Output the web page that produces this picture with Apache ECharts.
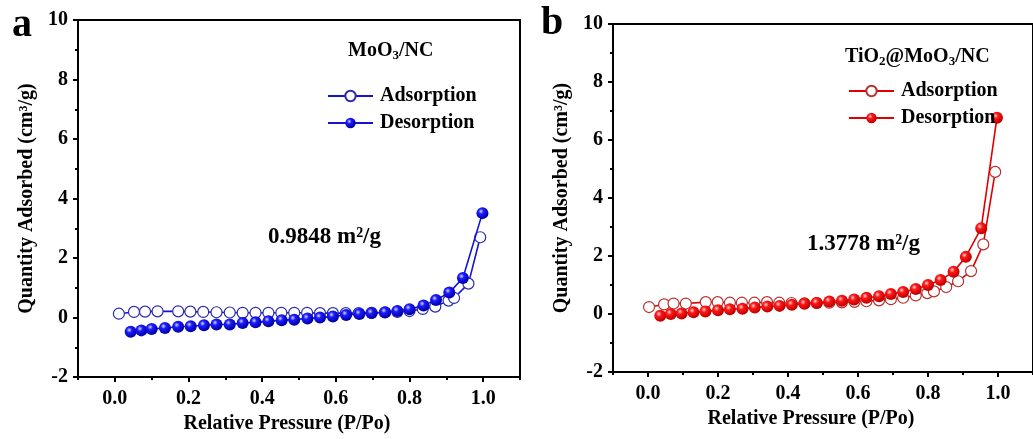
<!DOCTYPE html>
<html>
<head>
<meta charset="utf-8">
<script src="https://cdn.jsdelivr.net/npm/echarts@6/dist/echarts.min.js"></script>
<style>
  html, body { margin: 0; padding: 0; background: #fff; }
  #chart { width: 1033px; height: 439px; }
</style>
</head>
<body>
<div id="chart"></div>
<script>
// ---------- data ----------
const aAdsX = [0.011,0.052,0.082,0.116,0.172,0.205,0.240,0.276,0.312,0.347,0.382,0.417,0.452,0.487,0.522,0.557,0.592,0.627,0.662,0.697,0.733,0.767,0.800,0.836,0.870,0.906,0.921,0.960,0.992];
const aAdsY = [0.13,0.19,0.20,0.21,0.21,0.20,0.19,0.18,0.17,0.16,0.16,0.16,0.16,0.16,0.16,0.15,0.15,0.15,0.15,0.16,0.17,0.19,0.22,0.29,0.37,0.57,0.66,1.14,2.70];
const aDesX = [0.043,0.072,0.100,0.136,0.172,0.206,0.242,0.276,0.312,0.347,0.382,0.417,0.453,0.487,0.523,0.557,0.592,0.628,0.664,0.697,0.734,0.767,0.800,0.838,0.872,0.908,0.945,0.998];
const aDesY = [-0.48,-0.43,-0.38,-0.35,-0.31,-0.29,-0.26,-0.23,-0.23,-0.18,-0.16,-0.12,-0.09,-0.07,-0.03,0.00,0.04,0.09,0.12,0.15,0.18,0.22,0.28,0.41,0.59,0.84,1.33,3.51];

const bAdsX = [0.003,0.046,0.073,0.108,0.165,0.199,0.234,0.268,0.304,0.340,0.375,0.410,0.447,0.482,0.518,0.554,0.590,0.624,0.660,0.694,0.729,0.765,0.798,0.817,0.852,0.886,0.923,0.958,0.992];
const bAdsY = [0.24,0.33,0.36,0.36,0.41,0.41,0.39,0.39,0.39,0.41,0.39,0.38,0.37,0.38,0.39,0.40,0.42,0.44,0.47,0.51,0.56,0.64,0.72,0.78,0.93,1.13,1.48,2.40,4.90];
const bDesX = [0.035,0.065,0.096,0.130,0.164,0.200,0.234,0.270,0.305,0.341,0.376,0.411,0.447,0.482,0.518,0.554,0.589,0.624,0.660,0.694,0.729,0.765,0.800,0.836,0.873,0.908,0.952,0.997];
const bDesY = [-0.06,0.00,0.02,0.06,0.09,0.13,0.16,0.18,0.22,0.26,0.28,0.32,0.35,0.38,0.43,0.46,0.50,0.56,0.61,0.69,0.76,0.86,1.00,1.17,1.46,1.97,2.96,6.77];

const xMajorTicks = [0, 0.2, 0.4, 0.6, 0.8, 1.0];
const xMinorTicks = [-0.1, 0.1, 0.3, 0.5, 0.7, 0.9, 1.1];
const seriesNames = ['Adsorption', 'Desorption'];
const panelLetters = ['a', 'b'];
const areaLabels = ['0.9848 m²/g', '1.3778 m²/g'];
const xAxisTitle = 'Relative Pressure (P/Po)';
const yAxisTitle = 'Quantity Adsorbed (cm³/g)';

// ---------- styling ----------
const FONT = '"Liberation Serif", "Times New Roman", serif';
const zip = (xs, ys) => xs.map((x, i) => [x, ys[i]]);

function sphere(light, mid, dark) {
  return {
    type: 'radial', x: 0.38, y: 0.35, r: 0.62,
    colorStops: [
      { offset: 0, color: light },
      { offset: 0.35, color: mid },
      { offset: 1, color: dark }
    ]
  };
}

const panels = [
  { grid: { left: 78, top: 20, width: 442, height: 358 }, nameGapX: 24,
    line: '#1414d2', ring: '#2b2bb0', ball: sphere('#d8d8ff', '#1c1cff', '#0000a8'),
    ads: zip(aAdsX, aAdsY), des: zip(aDesX, aDesY) },
  { grid: { left: 613, top: 24, width: 429, height: 348 }, nameGapX: 33,
    line: '#e00000', ring: '#b83030', ball: sphere('#ffd8d8', '#ff1818', '#c00000'),
    ads: zip(bAdsX, bAdsY), des: zip(bDesX, bDesY) }
];

const labelStyle = { color: '#000', fontFamily: FONT, fontWeight: 'bold', fontSize: 20 };

const grid = [], xAxis = [], yAxis = [], series = [], legend = [];
panels.forEach((p, i) => {
  grid.push(Object.assign({ show: true, borderColor: '#000', borderWidth: 2, backgroundColor: 'transparent' }, p.grid));
  // main x axis (carries the data and the minor ticks)
  xAxis.push({
    gridIndex: i, type: 'value', min: -0.1, max: 1.1, position: 'bottom',
    axisLine: { show: true, onZero: false, lineStyle: { color: '#000', width: 2 } },
    axisTick: { show: true, customValues: xMinorTicks, length: 3, lineStyle: { width: 2, color: '#000' } },
    axisLabel: { show: false },
    splitLine: { show: false }
  });
  // overlay x axis for major ticks and labels
  xAxis.push({
    gridIndex: i, type: 'value', min: -0.1, max: 1.1, position: 'bottom',
    axisLine: { show: false, onZero: false },
    axisTick: { show: true, customValues: xMajorTicks, length: 5, lineStyle: { width: 2, color: '#000' } },
    axisLabel: Object.assign({ customValues: xMajorTicks, margin: 12, formatter: v => v.toFixed(1) }, labelStyle),
    splitLine: { show: false },
    name: xAxisTitle, nameLocation: 'middle', nameGap: p.nameGapX,
    nameTextStyle: Object.assign({ padding: [0, 24, 0, 0] }, labelStyle)
  });
  yAxis.push({
    gridIndex: i, type: 'value', min: -2, max: 10, interval: 2,
    axisLine: { show: true, onZero: false, lineStyle: { color: '#000', width: 2 } },
    axisTick: { show: true, length: 5, lineStyle: { width: 2, color: '#000' } },
    minorTick: { show: true, splitNumber: 2, length: 3, lineStyle: { width: 2, color: '#000' } },
    axisLabel: Object.assign({ margin: 10 }, labelStyle),
    splitLine: { show: false }, minorSplitLine: { show: false },
    name: yAxisTitle, nameLocation: 'middle', nameGap: 41,
    nameTextStyle: labelStyle
  });
  const prefix = panelLetters[i] + '|';
  series.push({
    name: prefix + seriesNames[0], type: 'line', xAxisIndex: i * 2, yAxisIndex: i,
    data: p.ads, symbol: 'circle', symbolSize: 11, showSymbol: true,
    lineStyle: { color: p.line, width: 1.6 },
    itemStyle: { color: '#fff', borderColor: p.ring, borderWidth: 1.2 },
    z: 2, animation: false
  });
  series.push({
    name: prefix + seriesNames[1], type: 'line', xAxisIndex: i * 2, yAxisIndex: i,
    data: p.des, symbol: 'circle', symbolSize: 12, showSymbol: true,
    lineStyle: { color: p.line, width: 1.6 },
    itemStyle: { color: p.ball, borderWidth: 0 },
    z: 3, animation: false
  });
});

const legendText = { color: '#000', fontFamily: FONT, fontWeight: 'bold', fontSize: 20, lineHeight: 20, padding: [0, 0, 0, 2] };
legend.push({
  left: 322, top: 81, orient: 'vertical', itemWidth: 45, itemHeight: 13, itemGap: 7,
  data: ['a|Adsorption', 'a|Desorption'], selectedMode: false,
  formatter: n => n.split('|')[1], textStyle: legendText
});
legend.push({
  left: 843, top: 76, orient: 'vertical', itemWidth: 45, itemHeight: 13, itemGap: 7,
  data: ['b|Adsorption', 'b|Desorption'], selectedMode: false,
  formatter: n => n.split('|')[1], textStyle: legendText
});

function richTitle(color) {
  return {
    m: { fontFamily: FONT, fontWeight: 'bold', fontSize: 20, color: color, lineHeight: 22 },
    s: { fontFamily: FONT, fontWeight: 'bold', fontSize: 13, color: color, lineHeight: 22, padding: [9, 0, 0, 0] }
  };
}

const graphic = [
  { type: 'text', left: 12, top: 6, style: { text: panelLetters[0], fontFamily: FONT, fontWeight: 'bold', fontSize: 40, fill: '#000' } },
  { type: 'text', left: 541, top: 4, style: { text: panelLetters[1], fontFamily: FONT, fontWeight: 'bold', fontSize: 40, fill: '#000' } },
  { type: 'text', x: 268, y: 237, style: { text: areaLabels[0], fontFamily: FONT, fontWeight: 'bold', fontSize: 23, fill: '#000', verticalAlign: 'middle' } },
  { type: 'text', x: 807, y: 244, style: { text: areaLabels[1], fontFamily: FONT, fontWeight: 'bold', fontSize: 23, fill: '#000', verticalAlign: 'middle' } },
  { type: 'text', x: 348, y: 51, style: { text: '{m|MoO}{s|3}{m|/NC}', rich: richTitle('#1818e0'), verticalAlign: 'middle' } },
  { type: 'text', x: 845, y: 57, style: { text: '{m|TiO}{s|2}{m|@MoO}{s|3}{m|/NC}', rich: richTitle('#e01010'), verticalAlign: 'middle' } }
];

const chart = echarts.init(document.getElementById('chart'), null, { renderer: 'canvas' });
chart.setOption({
  animation: false,
  backgroundColor: '#fff',
  grid, xAxis, yAxis, series, legend, graphic
});
</script>
</body>
</html>
